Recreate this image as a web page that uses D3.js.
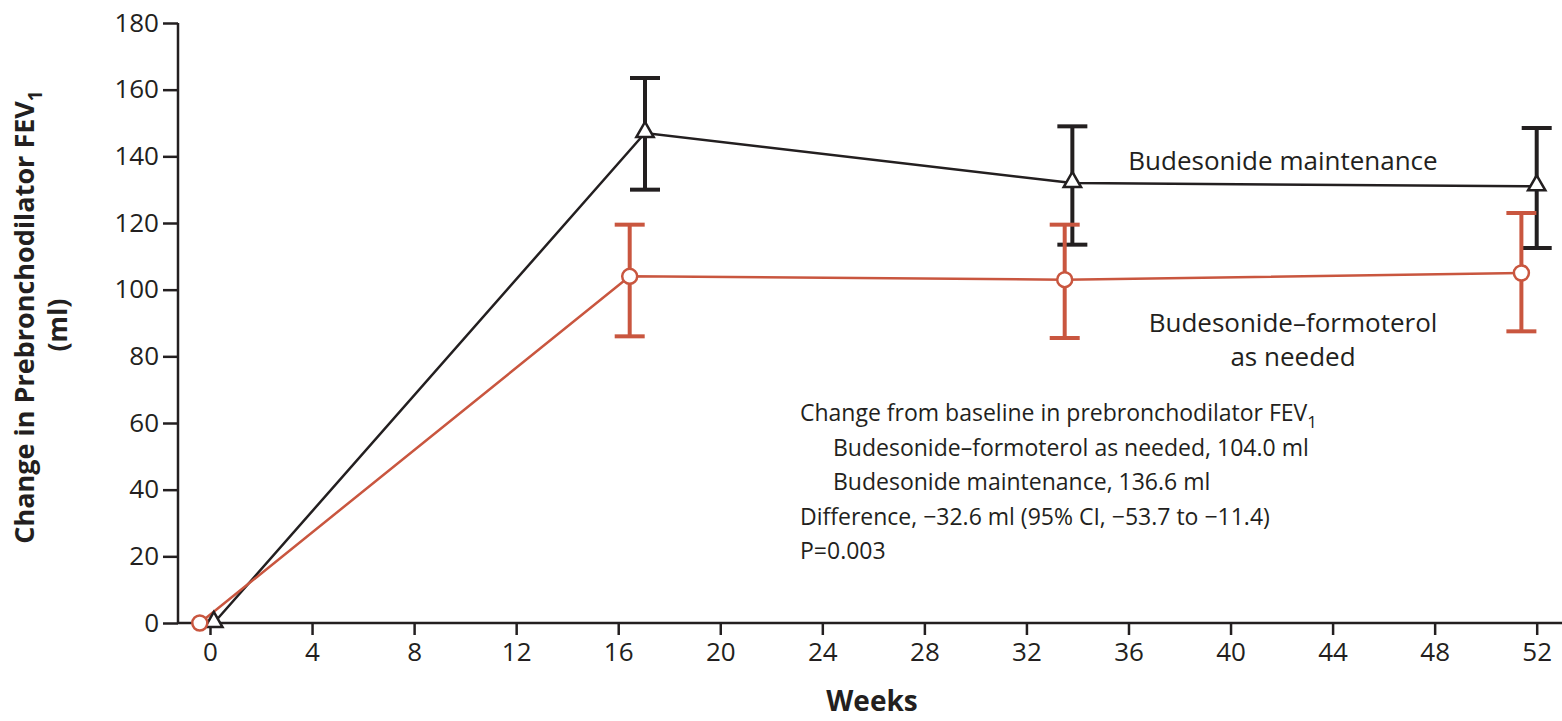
<!DOCTYPE html>
<html>
<head>
<meta charset="utf-8">
<script src="https://cdn.jsdelivr.net/npm/d3@7"></script>
<style>
  body { margin: 0; background: #fff; }
  text { font-family: "Open Sans", "Noto Sans", sans-serif; fill: #231f20; }
</style>
</head>
<body>
<svg width="1562" height="721"></svg>
<script>
// data
var weekTicks = [0, 4, 8, 12, 16, 20, 24, 28, 32, 36, 40, 44, 48, 52];
var yTicks = [0, 20, 40, 60, 80, 100, 120, 140, 160, 180];

var maintWeeks = [0.15, 17.05, 33.8, 52];
var maintMean  = [0, 147, 132, 131];
var maintLow   = [null, 130, 113.5, 112.5];
var maintHigh  = [null, 163.5, 149, 148.5];

var asNeededWeeks = [-0.4, 16.45, 33.5, 51.4];
var asNeededMean  = [0, 104, 103, 105];
var asNeededLow   = [null, 86, 85.5, 87.5];
var asNeededHigh  = [null, 119.5, 119.5, 123];

var noteLines = [
  {t: "Change from baseline in prebronchodilator FEV", sub: "1", indent: 0},
  {t: "Budesonide\u2013formoterol as needed, 104.0 ml", indent: 1},
  {t: "Budesonide maintenance, 136.6 ml", indent: 1},
  {t: "Difference, \u221232.6 ml (95% CI, \u221253.7 to \u221211.4)", indent: 0},
  {t: "P=0.003", indent: 0}
];

var svg = d3.select("svg");
var ink = "#231f20", red = "#c9563f";

var x = d3.scaleLinear().domain([0, 52]).range([210, 1536.7]);
var y = d3.scaleLinear().domain([0, 180]).range([623, 23]);

function series(ws, ms) { return ws.map(function(w, i) { return {w: w, v: ms[i]}; }); }
var maint = series(maintWeeks, maintMean);
var asNeeded = series(asNeededWeeks, asNeededMean);

// axes
var yAxis = svg.append("g").attr("transform", "translate(178,0)")
    .call(d3.axisLeft(y).tickValues(yTicks).tickSize(15).tickPadding(4));
yAxis.select(".domain").attr("d", "M0," + y(180) + "V" + y(0));

var xAxis = svg.append("g").attr("transform", "translate(0," + y(0) + ")")
    .call(d3.axisBottom(x).tickValues(weekTicks).tickSize(12).tickPadding(8));
xAxis.select(".domain").attr("d", "M178,0H1562");

svg.selectAll(".tick line, .domain").attr("stroke", ink).attr("stroke-width", 2.5);
svg.selectAll(".tick text").style("font-size", "26px").attr("fill", ink)
   .style("font-family", "'Open Sans', sans-serif");

// axis titles
var yt = svg.append("text").attr("transform", "translate(34,317) rotate(-90)")
   .attr("text-anchor", "middle").style("font-size", "27px").style("font-weight", "bold");
yt.append("tspan").text("Change in Prebronchodilator FEV");
yt.append("tspan").text("1").attr("dy", 8).style("font-size", "19px");
svg.append("text").attr("transform", "translate(67,325) rotate(-90)")
   .attr("text-anchor", "middle").style("font-size", "27px").style("font-weight", "bold").text("(ml)");
svg.append("text").attr("x", 872).attr("y", 711).attr("text-anchor", "middle")
   .style("font-size", "28px").style("font-weight", "bold").text("Weeks");

var line = d3.line().x(function(d) { return x(d.w); }).y(function(d) { return y(d.v); });

function drawBars(ws, lo, hi, color) {
  var g = svg.append("g").attr("stroke", color).attr("stroke-width", 4).attr("fill", "none");
  ws.forEach(function(w, i) {
    if (lo[i] == null) return;
    var cx = x(w);
    g.append("line").attr("x1", cx).attr("x2", cx).attr("y1", y(lo[i])).attr("y2", y(hi[i]));
    g.append("line").attr("x1", cx - 15).attr("x2", cx + 15).attr("y1", y(lo[i])).attr("y2", y(lo[i]));
    g.append("line").attr("x1", cx - 15).attr("x2", cx + 15).attr("y1", y(hi[i])).attr("y2", y(hi[i]));
  });
}

drawBars(maintWeeks, maintLow, maintHigh, ink);
drawBars(asNeededWeeks, asNeededLow, asNeededHigh, red);

svg.append("path").datum(maint).attr("d", line)
   .attr("fill", "none").attr("stroke", ink).attr("stroke-width", 2.5);
svg.append("path").datum(asNeeded).attr("d", line)
   .attr("fill", "none").attr("stroke", red).attr("stroke-width", 2.5);

// markers
svg.selectAll(".tri").data(maint).enter().append("path")
   .attr("d", d3.symbol().type(d3.symbolTriangle).size(130))
   .attr("transform", function(d) { return "translate(" + x(d.w) + "," + (y(d.v) - 1) + ")"; })
   .attr("fill", "#fff").attr("stroke", ink).attr("stroke-width", 2.5);
svg.selectAll(".circ").data(asNeeded).enter().append("circle")
   .attr("cx", function(d) { return x(d.w); }).attr("cy", function(d) { return y(d.v); })
   .attr("r", 7.5).attr("fill", "#fff").attr("stroke", red).attr("stroke-width", 2.5);

// series labels
svg.append("text").attr("x", 1283).attr("y", 170).attr("text-anchor", "middle")
   .style("font-size", "26px").text("Budesonide maintenance");
svg.append("text").attr("x", 1293).attr("y", 332).attr("text-anchor", "middle")
   .style("font-size", "26px").text("Budesonide\u2013formoterol");
svg.append("text").attr("x", 1293).attr("y", 366).attr("text-anchor", "middle")
   .style("font-size", "26px").text("as needed");

// note block
var note = svg.append("g");
noteLines.forEach(function(l, i) {
  var t = note.append("text").attr("x", 800 + l.indent * 33).attr("y", 421 + i * 34.5)
     .style("font-size", "23px");
  t.append("tspan").text(l.t);
  if (l.sub) t.append("tspan").text(l.sub).attr("dy", 7).style("font-size", "17px");
});
</script>
</body>
</html>
